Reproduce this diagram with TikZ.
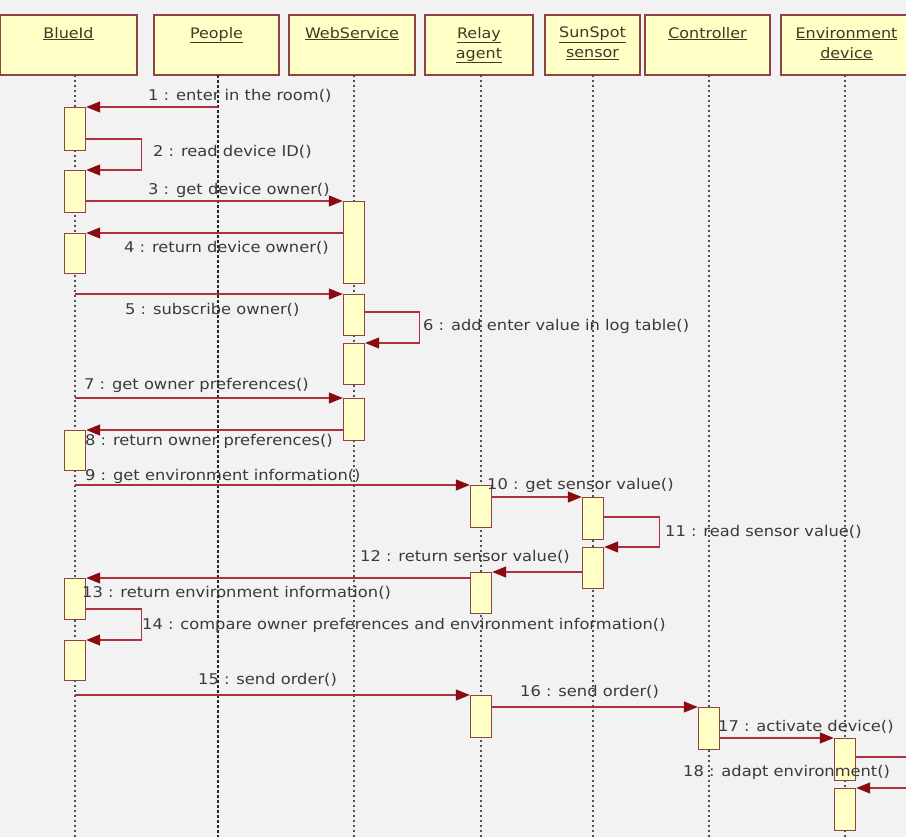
\documentclass[tikz,border=0pt]{standalone}
\usepackage{fontspec}
\setmainfont{DejaVu Sans}
\newfontfamily\diafont{DejaVu Sans}[FakeStretch=1.1]
\usetikzlibrary{arrows.meta,calc}
\definecolor{bgc}{HTML}{F2F2F2}
\definecolor{boxfill}{HTML}{FFFFC6}
\definecolor{boxline}{HTML}{8E4446}
\definecolor{msgline}{HTML}{B0303E}
\definecolor{tipcol}{HTML}{8A0A12}
\definecolor{txt}{HTML}{3A3A3A}
\definecolor{headtxt}{HTML}{3C3C2A}
\definecolor{lifecol}{HTML}{505050}

\newcommand\hdbox[5]{% name, x centre, width, lifeline x, title
  \node[headbox, minimum width=#3] (#1) at (#2,45)
    {\parbox[c][54pt][t]{#3pt}{\centering\vspace*{9pt}#5}};
  \coordinate (L#1) at (#4,75);
  \draw[lifeline] (L#1) -- (#4,840);}
\newcommand\actbox[4]{% name, lifeline, top, bottom
  \node[act, anchor=north, minimum height={(#4-#3)*1pt}] (#1) at (L#2 |- 0,#3) {};}
\newcommand\ul[1]{\underline{#1}}

\begin{document}
\begin{tikzpicture}[x=1pt,y=-1pt,
  headbox/.style={draw=boxline, line width=1.8pt, fill=boxfill, inner sep=2pt,
    minimum height=60pt, font=\diafont\fontsize{14.5}{20}\selectfont, text=headtxt},
  lifeline/.style={draw=lifecol, line width=1.2pt, dash pattern=on 2pt off 3pt},
  act/.style={draw=boxline, line width=1.4pt, fill=boxfill, minimum width=21pt, inner sep=0pt},
  msg/.style={draw=msgline, line width=1.2pt,
    -{Triangle[length=14pt,width=11pt,color=tipcol]}},
  lbl/.style={anchor=west, inner sep=0pt, text=txt, font=\diafont\fontsize{14.8}{17}\selectfont}]
\clip (0,0) rectangle (906,837);
\fill[bgc] (0,0) rectangle (906,837);

% lifeline heads
\hdbox{Bl}{68.5}{133}{75}{\ul{BlueId}}
\hdbox{Pe}{216.5}{121}{218}{\ul{People}}
\hdbox{Ws}{352}{122}{354}{\ul{WebService}}
\hdbox{Re}{479}{104}{481}{\ul{Relay}\\\ul{agent}}
\hdbox{Su}{592.5}{91}{593}{\ul{SunSpot}\\\ul{sensor}}
\hdbox{Co}{707.5}{121}{709}{\ul{Controller}}
\hdbox{En}{846.5}{127}{845}{\ul{Environment}\\\ul{device}}
% the People lifeline is drawn heavier
\draw[draw=black!85, line width=2.4pt, dash pattern=on 3pt off 2pt] (LPe) -- (218,840);

% activation bars
\actbox{bl1}{Bl}{107}{150}
\actbox{bl2}{Bl}{170}{212}
\actbox{bl3}{Bl}{233}{273}
\actbox{bl4}{Bl}{430}{470}
\actbox{bl5}{Bl}{578}{619}
\actbox{bl6}{Bl}{640}{680}
\actbox{ws1}{Ws}{201}{283}
\actbox{ws2}{Ws}{294}{335}
\actbox{ws3}{Ws}{343}{384}
\actbox{ws4}{Ws}{398}{440}
\actbox{re1}{Re}{485}{527}
\actbox{re2}{Re}{572}{613}
\actbox{re3}{Re}{695}{737}
\actbox{su1}{Su}{497}{539}
\actbox{su2}{Su}{547}{588}
\actbox{co1}{Co}{707}{749}
\actbox{en1}{En}{738}{780}
\actbox{en2}{En}{788}{830}

% messages
\draw[msg] (LPe |- bl1.north) -- (bl1.north east);
\draw[msg] ([yshift=-32pt]bl1.north east) -- ++(55,0) |- (bl2.north east);
\draw[msg] (bl2.east |- ws1.north) -- (ws1.north west);
\draw[msg] (ws1.west |- bl3.north) -- (bl3.north east);
\draw[msg] (LBl |- ws2.north) -- (ws2.north west);
\draw[msg] ([yshift=-18pt]ws2.north east) -- ++(54,0) |- (ws3.north east);
\draw[msg] (LBl |- ws4.north) -- (ws4.north west);
\draw[msg] (ws4.west |- bl4.north) -- (bl4.north east);
\draw[msg] (LBl |- re1.north) -- (re1.north west);
\draw[msg] (re1.east |- su1.north) -- (su1.north west);
\draw[msg] ([yshift=-20pt]su1.north east) -- ++(55,0) |- (su2.north east);
\draw[msg] (su2.west |- re2.north) -- (re2.north east);
\draw[msg] (re2.west |- bl5.north) -- (bl5.north east);
\draw[msg] ([yshift=-31pt]bl5.north east) -- ++(55,0) |- (bl6.north east);
\draw[msg] (LBl |- re3.north) -- (re3.north west);
\draw[msg] (re3.east |- co1.north) -- (co1.north west);
\draw[msg] (co1.east |- en1.north) -- (en1.north west);
\draw[msg] ([yshift=-19pt]en1.north east) -- ++(70,0) |- (en2.north east);

% message labels
\node[lbl] (m1)  at (148,96)  {1 : enter in the room()};
\node[lbl] (m2)  at (153,152) {2 : read device ID()};
\node[lbl] (m3)  at (148,190) {3 : get device owner()};
\node[lbl] (m4)  at (124,248) {4 : return device owner()};
\node[lbl] (m5)  at (125,310) {5 : subscribe owner()};
\node[lbl] (m6)  at (423,326) {6 : add enter value in log table()};
\node[lbl] (m7)  at (84,385)  {7 : get owner preferences()};
\node[lbl] (m8)  at (85,441)  {8 : return owner preferences()};
\node[lbl] (m9)  at (85,476)  {9 : get environment information()};
\node[lbl] (m10) at (487,485) {10 : get sensor value()};
\node[lbl] (m11) at (665,532) {11 : read sensor value()};
\node[lbl] (m12) at (360,557) {12 : return sensor value()};
\node[lbl] (m13) at (82,593)  {13 : return environment information()};
\node[lbl] (m14) at (142,625) {14 : compare owner preferences and environment information()};
\node[lbl] (m15) at (198,680) {15 : send order()};
\node[lbl] (m16) at (520,692) {16 : send order()};
\node[lbl] (m17) at (718,727) {17 : activate device()};
\node[lbl] (m18) at (683,772) {18 : adapt environment()};
\end{tikzpicture}
\end{document}
